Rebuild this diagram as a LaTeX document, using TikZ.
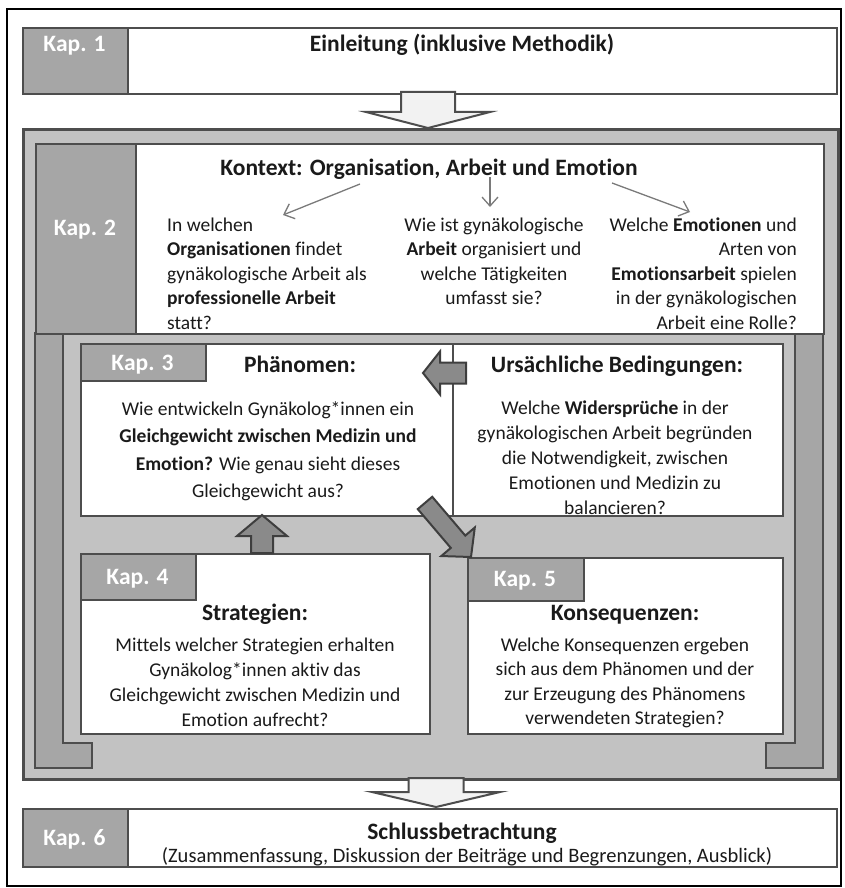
\documentclass[tikz,border=0pt]{standalone}
\usepackage{fontspec}
\setmainfont{Carlito}[Ligatures={NoCommon,NoRare}]
\usetikzlibrary{arrows.meta}
\definecolor{lg}{HTML}{C2C2C2}
\definecolor{dg}{HTML}{A6A6A6}
\definecolor{bd}{HTML}{4D4D4D}
\definecolor{af}{HTML}{8A8A8A}
\definecolor{hf}{HTML}{F2F2F2}
\definecolor{ln}{HTML}{7A7A7A}
\definecolor{tx}{HTML}{1A1A1A}
\newcommand\blockarrow[7]{%
  \begin{scope}[shift={(#2)},rotate=#3]
    \draw[#1] (0,0) -- (-#5,#7) -- (-#5,#6) -- (-#4,#6) -- (-#4,-#6) -- (-#5,-#6) -- (-#5,-#7) -- cycle;
  \end{scope}}
\begin{document}
\begin{tikzpicture}[x=1pt,y=-1pt,
  box/.style={draw=bd,line width=2pt,inner sep=0pt,anchor=north west},
  hdr/.style={inner sep=0pt,anchor=base,text=tx,font=\fontsize{23.5}{28}\selectfont\bfseries},
  lab/.style={hdr,text=white},
  body/.style={inner sep=0pt,anchor=north,align=center,text=tx,font=\fontsize{19.5}{25}\selectfont},
  hollow/.style={draw=bd,fill=hf,line width=2pt,line join=miter},
  solid/.style={draw=bd!80!black,fill=af,line width=2pt,line join=miter},
  thin/.style={draw=ln,line width=1.3pt,-{Straight Barb[length=9pt,width=16pt]}}]
\useasboundingbox (0,0) rectangle (845,888);
\fill[white] (0,0) rectangle (845,888);
\node[draw=black,line width=1.6pt,inner sep=0pt,anchor=north west,minimum width=834pt,minimum height=877pt] (frame) at (6,8) {};

% Kap 1
\node[box,fill=dg,minimum width=105pt,minimum height=66pt] (k1l) at (22,27) {};
\node[box,fill=white,minimum width=709pt,minimum height=66pt] (k1) at (127,27) {};
\node[lab] (k1t) at (74.5,52) {Kap. 1};
\node[hdr] (k1h) at (462,52) {Einleitung (inklusive Methodik)};

% big block
\node[box,fill=lg,line width=2.5pt,minimum width=815pt,minimum height=650pt] (blk) at (22,128) {};
\coordinate (t1) at (428,128);
\blockarrow{hollow}{t1}{-90}{36}{16}{27}{62}

% dark frame bars
\draw[fill=dg,draw=bd,line width=2pt] (35,333) -- (63,333) -- (63,743) -- (92,743) -- (92,768) -- (35,768) -- cycle;
\draw[fill=dg,draw=bd,line width=2pt] (823,333) -- (795,333) -- (795,743) -- (766,743) -- (766,768) -- (823,768) -- cycle;

% Kap 2
\node[box,fill=dg,minimum width=100pt,minimum height=190pt] (k2l) at (35,143) {};
\node[box,fill=white,minimum width=688pt,minimum height=190pt] (k2) at (135,143) {};
\node[lab] (k2t) at (85,235) {Kap. 2};
\node[hdr] (k2h) at (429,175) {Kontext: Organisation, Arbeit und Emotion};
\coordinate (a1s) at (360,184); \coordinate (a1e) at (283,215);
\coordinate (a2s) at (490,177); \coordinate (a2e) at (490,207);
\coordinate (a3s) at (612,183); \coordinate (a3e) at (690,212);
\draw[thin] (a1s) -- (a1e);
\draw[thin] (a2s) -- (a2e);
\draw[thin] (a3s) -- (a3e);
\node[body,anchor=north west,align=left,font=\fontsize{19.5}{24.5}\selectfont] (c1) at (167,214) {\strut In welchen\\\textbf{Organisationen} findet\\gynäkologische Arbeit als\\\textbf{professionelle Arbeit}\\statt?};
\node[body,font=\fontsize{19.5}{24.5}\selectfont] (c2) at (494,214) {\strut Wie ist gynäkologische\\\textbf{Arbeit} organisiert und\\welche Tätigkeiten\\umfasst sie?};
\node[body,anchor=north east,align=right,font=\fontsize{19.5}{24.5}\selectfont] (c3) at (797,214) {\strut Welche \textbf{Emotionen} und\\Arten von\\\textbf{Emotionsarbeit} spielen\\in der gynäkologischen\\Arbeit eine Rolle?};

% Kap 3 and causes
\node[box,fill=white,minimum width=372pt,minimum height=172pt] (k3) at (80,343) {};
\node[box,fill=white,minimum width=330pt,minimum height=172pt] (k3u) at (452,343) {};
\node[box,fill=dg,minimum width=125pt,minimum height=37pt] (k3l) at (80,343) {};
\node[lab] (k3t) at (142.5,370) {Kap. 3};
\node[hdr] (k3h) at (300,372) {Phänomen:};
\node[hdr] (k3uh) at (617,372) {Ursächliche Bedingungen:};
\node[body,font=\fontsize{19.5}{27.5}\selectfont] (k3b) at (268,396) {\strut Wie entwickeln Gynäkolog*innen ein\\\textbf{Gleichgewicht zwischen Medizin und}\\\textbf{Emotion?} Wie genau sieht dieses\\Gleichgewicht aus?};
\node[body] (k3ub) at (615,397) {\strut Welche \textbf{Widersprüche} in der\\gynäkologischen Arbeit begründen\\die Notwendigkeit, zwischen\\Emotionen und Medizin zu\\balancieren?};

% Kap 4
\node[box,fill=white,minimum width=349pt,minimum height=180pt] (k4) at (80,553) {};
\node[box,fill=dg,minimum width=115pt,minimum height=46pt] (k4l) at (80,553) {};
\node[lab] (k4t) at (137.5,584) {Kap. 4};
\node[hdr] (k4h) at (255,620) {Strategien:};
\node[body] (k4b) at (255,634) {\strut Mittels welcher Strategien erhalten\\Gynäkolog*innen aktiv das\\Gleichgewicht zwischen Medizin und\\Emotion aufrecht?};

% Kap 5
\node[box,fill=white,minimum width=315pt,minimum height=176pt] (k5) at (467,557) {};
\node[box,fill=dg,minimum width=116pt,minimum height=43pt] (k5l) at (467,557) {};
\node[lab] (k5t) at (525,586) {Kap. 5};
\node[hdr] (k5h) at (625,620) {Konsequenzen:};
\node[body,font=\fontsize{19.5}{24.5}\selectfont] (k5b) at (625,634) {\strut Welche Konsequenzen ergeben\\sich aus dem Phänomen und der\\zur Erzeugung des Phänomens\\verwendeten Strategien?};

% dark arrows
\coordinate (d1) at (423,373);
\blockarrow{solid}{d1}{180}{43}{17}{10.5}{21.5}
\coordinate (d2) at (262,515);
\blockarrow{solid}{d2}{90}{38}{21}{11}{25}
\coordinate (d3) at (471,557);
\blockarrow{solid}{d3}{-49.6}{71}{20}{9.5}{22}

% bottom arrow
\coordinate (t2) at (436,807);
\blockarrow{hollow}{t2}{-90}{29}{15}{27.5}{64}

% Kap 6
\node[box,fill=dg,minimum width=105pt,minimum height=58pt] (k6l) at (22,808) {};
\node[box,fill=white,minimum width=709pt,minimum height=58pt] (k6) at (127,808) {};
\node[lab] (k6t) at (74.5,845) {Kap. 6};
\node[hdr] (k6h) at (462,839) {Schlussbetrachtung};
\node[inner sep=0pt,anchor=base,text=tx,font=\fontsize{20.5}{22}\selectfont] (k6s) at (467,862) {(Zusammenfassung, Diskussion der Beiträge und Begrenzungen, Ausblick)};
\end{tikzpicture}
\end{document}
